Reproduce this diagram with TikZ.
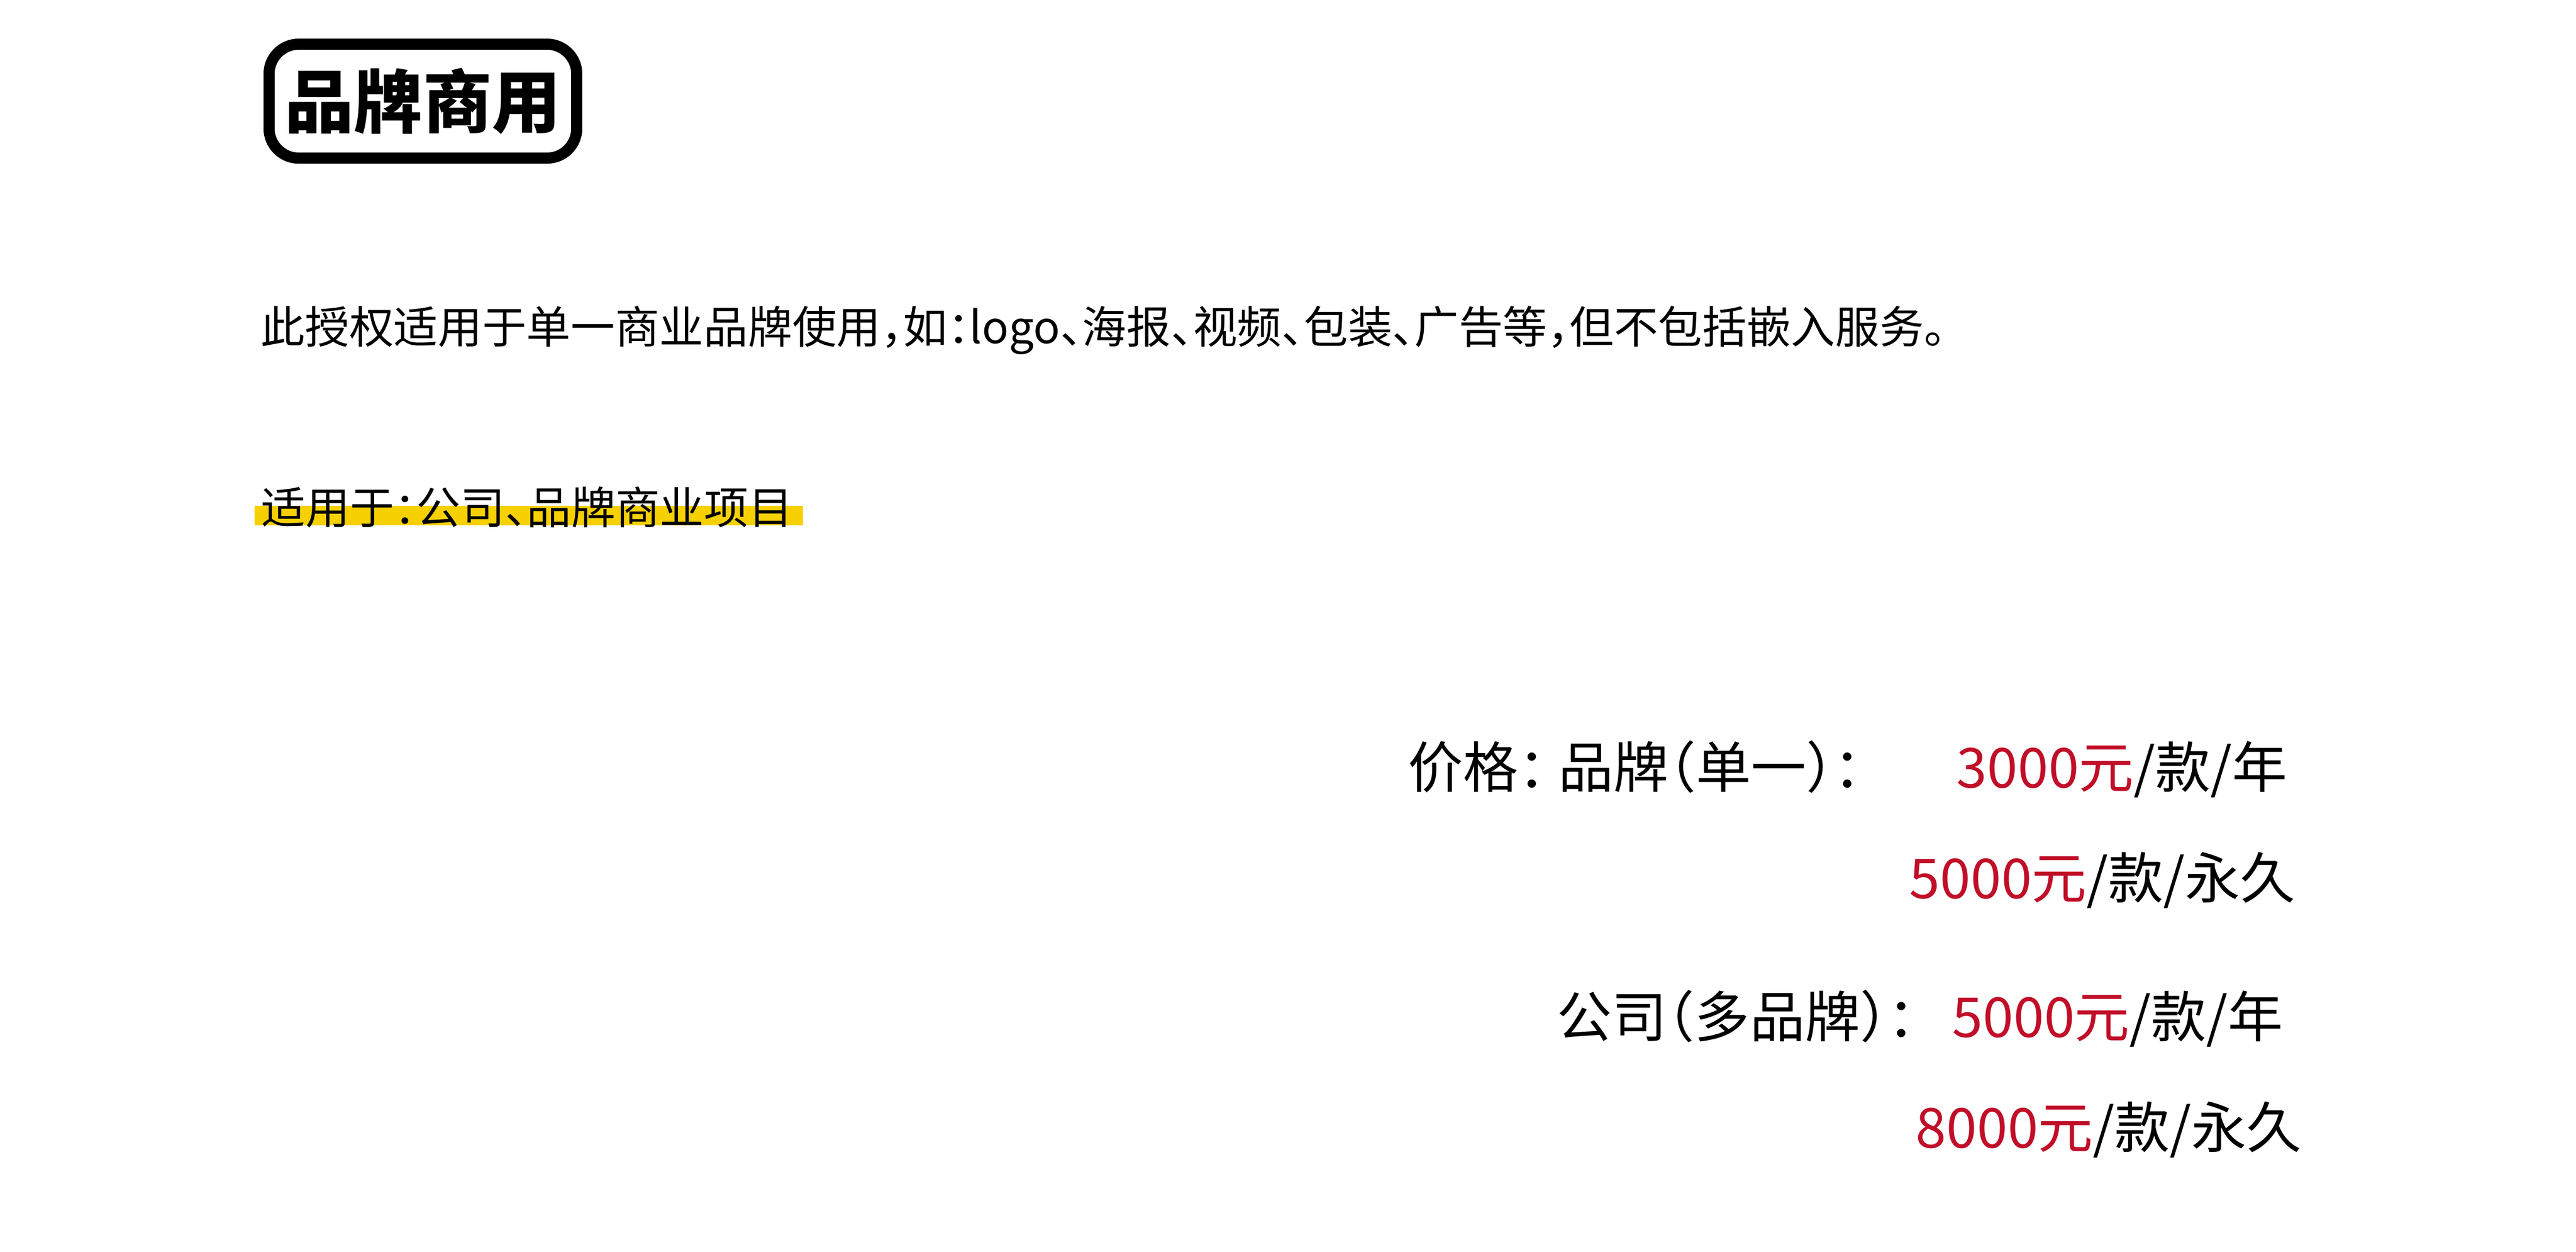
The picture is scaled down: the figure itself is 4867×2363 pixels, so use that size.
\documentclass[tikz,border=0pt]{standalone}
\usepackage{fontspec}
\setmainfont{Noto Sans CJK SC}[RawFeature=+halt]
\usepackage{tikz}
\definecolor{pricered}{RGB}{193,14,40}
\definecolor{markyellow}{RGB}{247,208,0}

\begin{document}
\begin{tikzpicture}[x=0.01cm,y=-0.01cm,
        body/.style={anchor=base west,inner sep=0pt,font=\fontsize{23.8}{28}\selectfont},
        price/.style={anchor=base west,inner sep=0pt,font=\fontsize{29.6}{36}\selectfont},
        titlebox/.style={draw,line width=0.21cm,rounded corners=0.56cm,
          minimum width=5.81cm,minimum height=2.15cm,inner sep=0pt,
          font=\fontsize{37}{44}\selectfont\bfseries}]
        \useasboundingbox (0,0) rectangle (4867,2363);
        \node[titlebox] (title) at (799,191) {品牌商用};
        \node[body] (intro) at (492,648)
        {此授权适用于单一商业品牌使用，如：logo、海报、视频、包装、广告等，但不包括嵌入服务。};
        \fill[markyellow] (481,955) rectangle (1517,992);
        \node[body] (scope) at (493,989) {适用于：公司、品牌商业项目};
        \node[price] (brand) at (2660,1487) {价格： 品牌（单一）：};
        \node[price] (brandyear) at (3696,1487) {\textcolor{pricered}{3000元}/款/年};
        \node[price] (brandlife) at (3607,1696) {\textcolor{pricered}{5000元}/款/永久};
        \node[price] (company) at (2941,1958) {公司（多品牌）：};
        \node[price] (companyyear) at (3688,1958) {\textcolor{pricered}{5000元}/款/年};
        \node[price] (companylife) at (3619,2167) {\textcolor{pricered}{8000元}/款/永久};
      \end{tikzpicture}
\end{document}
